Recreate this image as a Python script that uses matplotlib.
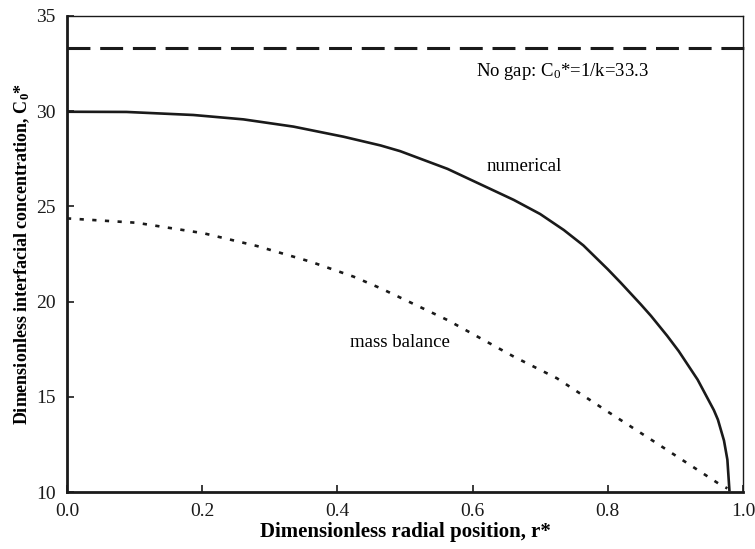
import matplotlib
matplotlib.use('Agg')
import matplotlib.pyplot as plt

plt.rcParams['font.family'] = ['Liberation Serif', 'DejaVu Serif']
plt.rcParams['mathtext.fontset'] = 'custom'
plt.rcParams['mathtext.rm'] = 'Liberation Serif'
plt.rcParams['mathtext.it'] = 'Liberation Serif:italic'
plt.rcParams['mathtext.bf'] = 'Liberation Serif:bold'

# numerical solution
r_num = [0.0, 0.088, 0.187, 0.261, 0.335, 0.409, 0.464, 0.493, 0.563, 0.661,
         0.7, 0.735, 0.764, 0.8, 0.819, 0.849, 0.864, 0.888, 0.905, 0.933,
         0.957, 0.963, 0.972, 0.977, 0.98]
c_num = [29.97, 29.96, 29.80, 29.57, 29.19, 28.66, 28.2, 27.9, 26.97, 25.34,
         24.6, 23.76, 22.95, 21.7, 21.0, 19.85, 19.25, 18.2, 17.4, 15.9,
         14.3, 13.8, 12.7, 11.7, 10.1]

# mass balance estimate
r_mb = [0.0, 0.103, 0.202, 0.281, 0.36, 0.424, 0.464, 0.563, 0.661, 0.725,
        0.8, 0.869, 0.933, 0.965, 0.977]
c_mb = [24.37, 24.14, 23.59, 22.92, 22.1, 21.31, 20.70, 19.03, 17.11, 15.97,
        14.22, 12.64, 11.16, 10.42, 10.19]

no_gap = 33.3

fig = plt.figure(figsize=(7.55, 5.49), dpi=100)
ax = fig.add_axes([0.0887, 0.1038, 0.8953, 0.8671])

ax.plot(r_num, c_num, color='#1a1a1a', lw=1.9)
ax.plot(r_mb, c_mb, color='#1a1a1a', lw=1.9, dashes=(1.6, 3.2))
ax.axhline(no_gap, xmin=0, xmax=1.004, color='#1a1a1a', lw=2.2, dashes=(7.5, 3.2), clip_on=False)

ax.text(0.733, 32.06, r'No gap: C$_0$*=1/k=33.3', ha='center', va='center', fontsize=13.5)
ax.text(0.676, 27.07, 'numerical', ha='center', va='center', fontsize=13.5)
ax.text(0.493, 17.83, 'mass balance', ha='center', va='center', fontsize=13.5)

ax.set_xlim(0, 1.0)
ax.set_ylim(10, 35)
ax.set_xticks([0.0, 0.2, 0.4, 0.6, 0.8, 1.0])
ax.set_xticklabels(['0.0', '0.2', '0.4', '0.6', '0.8', '1.0'])
ax.set_yticks([10, 15, 20, 25, 30, 35])
ax.tick_params(direction='in', length=5, width=1.2, labelsize=14, colors='#1a1a1a')
ax.tick_params(axis='x', pad=8)
ax.tick_params(axis='y', pad=8)

ax.spines['left'].set_linewidth(2.0)
ax.spines['bottom'].set_linewidth(2.0)
ax.spines['top'].set_linewidth(1.0)
ax.spines['right'].set_linewidth(1.0)
for s in ax.spines.values():
    s.set_color('#1a1a1a')

ax.set_xlabel('Dimensionless radial position, r*', fontsize=15, fontweight='bold')
ax.set_ylabel(r'Dimensionless interfacial concentration, C$_\mathbf{0}$*', fontsize=13,
              fontweight='bold')
ax.xaxis.set_label_coords(0.5, -0.064)
ax.yaxis.set_label_coords(-0.052, 0.5)

fig.savefig('out.png', dpi=100)
